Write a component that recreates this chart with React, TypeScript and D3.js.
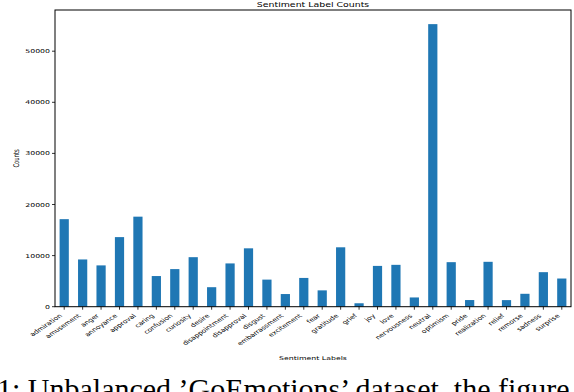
import React from "react";
import * as d3 from "d3";

const labels = [
  "admiration", "amusement", "anger", "annoyance", "approval", "caring", "confusion",
  "curiosity", "desire", "disappointment", "disapproval", "disgust", "embarrassment",
  "excitement", "fear", "gratitude", "grief", "joy", "love", "nervousness", "neutral",
  "optimism", "pride", "realization", "relief", "remorse", "sadness", "surprise",
];
const counts = [
  17131, 9245, 8084, 13618, 17620, 5999, 7359, 9692, 3817, 8469, 11424, 5301, 2476,
  5629, 3197, 11625, 673, 7983, 8191, 1810, 55298, 8715, 1302, 8785, 1289, 2525, 6758, 5514,
];
const yTicks = [0, 10000, 20000, 30000, 40000, 50000];

const title = "Sentiment Label Counts";
const xTitle = "Sentiment Labels";
const yTitle = "Counts";
const caption = "1: Unbalanced \u2019GoEmotions\u2019 dataset, the figure shows";

const W = 574;
const H = 392;
const margin = { top: 10, right: 3, bottom: 85.3, left: 55 };
const squash = 0.68; // the figure is squeezed vertically

export default function App() {
  const innerW = W - margin.left - margin.right;
  const innerH = H - margin.top - margin.bottom;

  const x = d3.scaleBand<string>().domain(labels).range([0, innerW]).paddingInner(0).paddingOuter(0);
  const y = d3.scaleLinear().domain([0, d3.max(counts)! * 1.05]).range([innerH, 0]);
  const bw = x.bandwidth() * 0.5;
  const font = "'DejaVu Sans', sans-serif";

  return (
    <svg
      width={W}
      height={H}
      style={{ position: "absolute", left: 0, top: 0, background: "#fff" }}
    >
      <text
        transform={`translate(${margin.left + innerW / 2}, 7) scale(1, ${squash})`}
        textAnchor="middle"
        fontFamily={font}
        fontSize={9.4}
      >
        {title}
      </text>
      <g transform={`translate(${margin.left}, ${margin.top})`}>
        {counts.map((c, i) => (
          <rect
            key={labels[i]}
            x={x(labels[i])! + x.bandwidth() / 2 - bw / 2}
            y={y(c)}
            width={bw}
            height={innerH - y(c)}
            fill="#1f77b4"
          />
        ))}
        <rect x={0} y={0} width={innerW} height={innerH} fill="none" stroke="#000" strokeWidth={1} />
        {yTicks.map((t) => (
          <g key={t} transform={`translate(0, ${y(t)})`}>
            <line x1={-3} x2={0} stroke="#000" strokeWidth={0.8} />
            <text
              transform={`translate(-5, 2) scale(1, ${squash})`}
              textAnchor="end"
              fontFamily={font}
              fontSize={7.8}
            >
              {t}
            </text>
          </g>
        ))}
        {labels.map((l) => {
          const cx = x(l)! + x.bandwidth() / 2;
          return (
            <g key={l}>
              <line x1={cx} x2={cx} y1={innerH} y2={innerH + 3} stroke="#000" strokeWidth={0.8} />
              <text
                transform={`translate(${cx - 1.5}, ${innerH + 9.5}) scale(1, ${squash}) rotate(-45)`}
                textAnchor="end"
                fontFamily={font}
                fontSize={7.8}
              >
                {l}
              </text>
            </g>
          );
        })}
      </g>
      <text
        transform={`translate(${margin.left + innerW / 2}, 360) scale(1, ${squash})`}
        textAnchor="middle"
        fontFamily={font}
        fontSize={7.8}
      >
        {xTitle}
      </text>
      <text
        transform={`translate(19, ${margin.top + innerH / 2}) scale(1, ${squash}) rotate(-90)`}
        textAnchor="middle"
        fontFamily={font}
        fontSize={7.8}
      >
        {yTitle}
      </text>
      <text x={-3} y={399} fontFamily="'Liberation Serif', serif" fontSize={30}>
        {caption}
      </text>
    </svg>
  );
}
